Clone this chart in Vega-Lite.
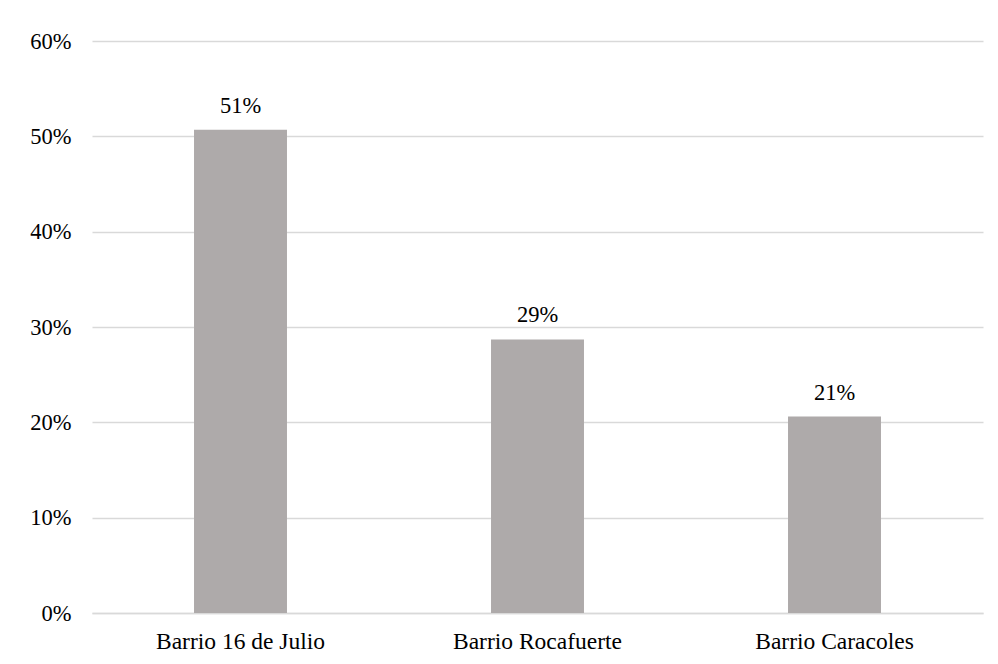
{
  "$schema": "https://vega.github.io/schema/vega-lite/v6.json",
  "autosize": {"type": "none"},
  "width": 891,
  "height": 572,
  "padding": {"left": 92, "top": 41, "right": 15, "bottom": 51},
  "background": "white",
  "config": {
    "view": {"stroke": null},
    "font": "'Times New Roman', 'Liberation Serif', serif",
    "axis": {"labelFont": "'Times New Roman', 'Liberation Serif', serif", "labelColor": "#000000"},
    "text": {"font": "'Times New Roman', 'Liberation Serif', serif"}
  },
  "data": {
    "values": [
      {"barrio": "Barrio 16 de Julio", "pct": 0.507},
      {"barrio": "Barrio Rocafuerte", "pct": 0.287},
      {"barrio": "Barrio Caracoles", "pct": 0.206}
    ]
  },
  "encoding": {
    "x": {
      "field": "barrio",
      "type": "nominal",
      "sort": null,
      "scale": {"paddingInner": 0.687, "paddingOuter": 0.3435},
      "axis": {
        "title": null,
        "labelAngle": 0,
        "labelFontSize": 23.5,
        "ticks": false,
        "domain": true,
        "domainColor": "#D9D9D9",
        "domainWidth": 1.5,
        "labelPadding": 16
      }
    },
    "y": {
      "field": "pct",
      "type": "quantitative",
      "scale": {"domain": [0, 0.6], "nice": false},
      "axis": {
        "title": null,
        "values": [0, 0.1, 0.2, 0.3, 0.4, 0.5, 0.6],
        "format": ".0%",
        "labelFontSize": 22.5,
        "ticks": false,
        "domain": false,
        "grid": true,
        "gridColor": "#D9D9D9",
        "gridWidth": 1.5,
        "labelPadding": 21
      }
    }
  },
  "layer": [
    {"mark": {"type": "bar", "color": "#AEAAAA"}},
    {
      "mark": {"type": "text", "baseline": "alphabetic", "dy": -17, "fontSize": 22.5, "color": "#000000", "font": "'Times New Roman', 'Liberation Serif', serif"},
      "encoding": {"text": {"field": "pct", "type": "quantitative", "format": ".0%"}}
    }
  ]
}
